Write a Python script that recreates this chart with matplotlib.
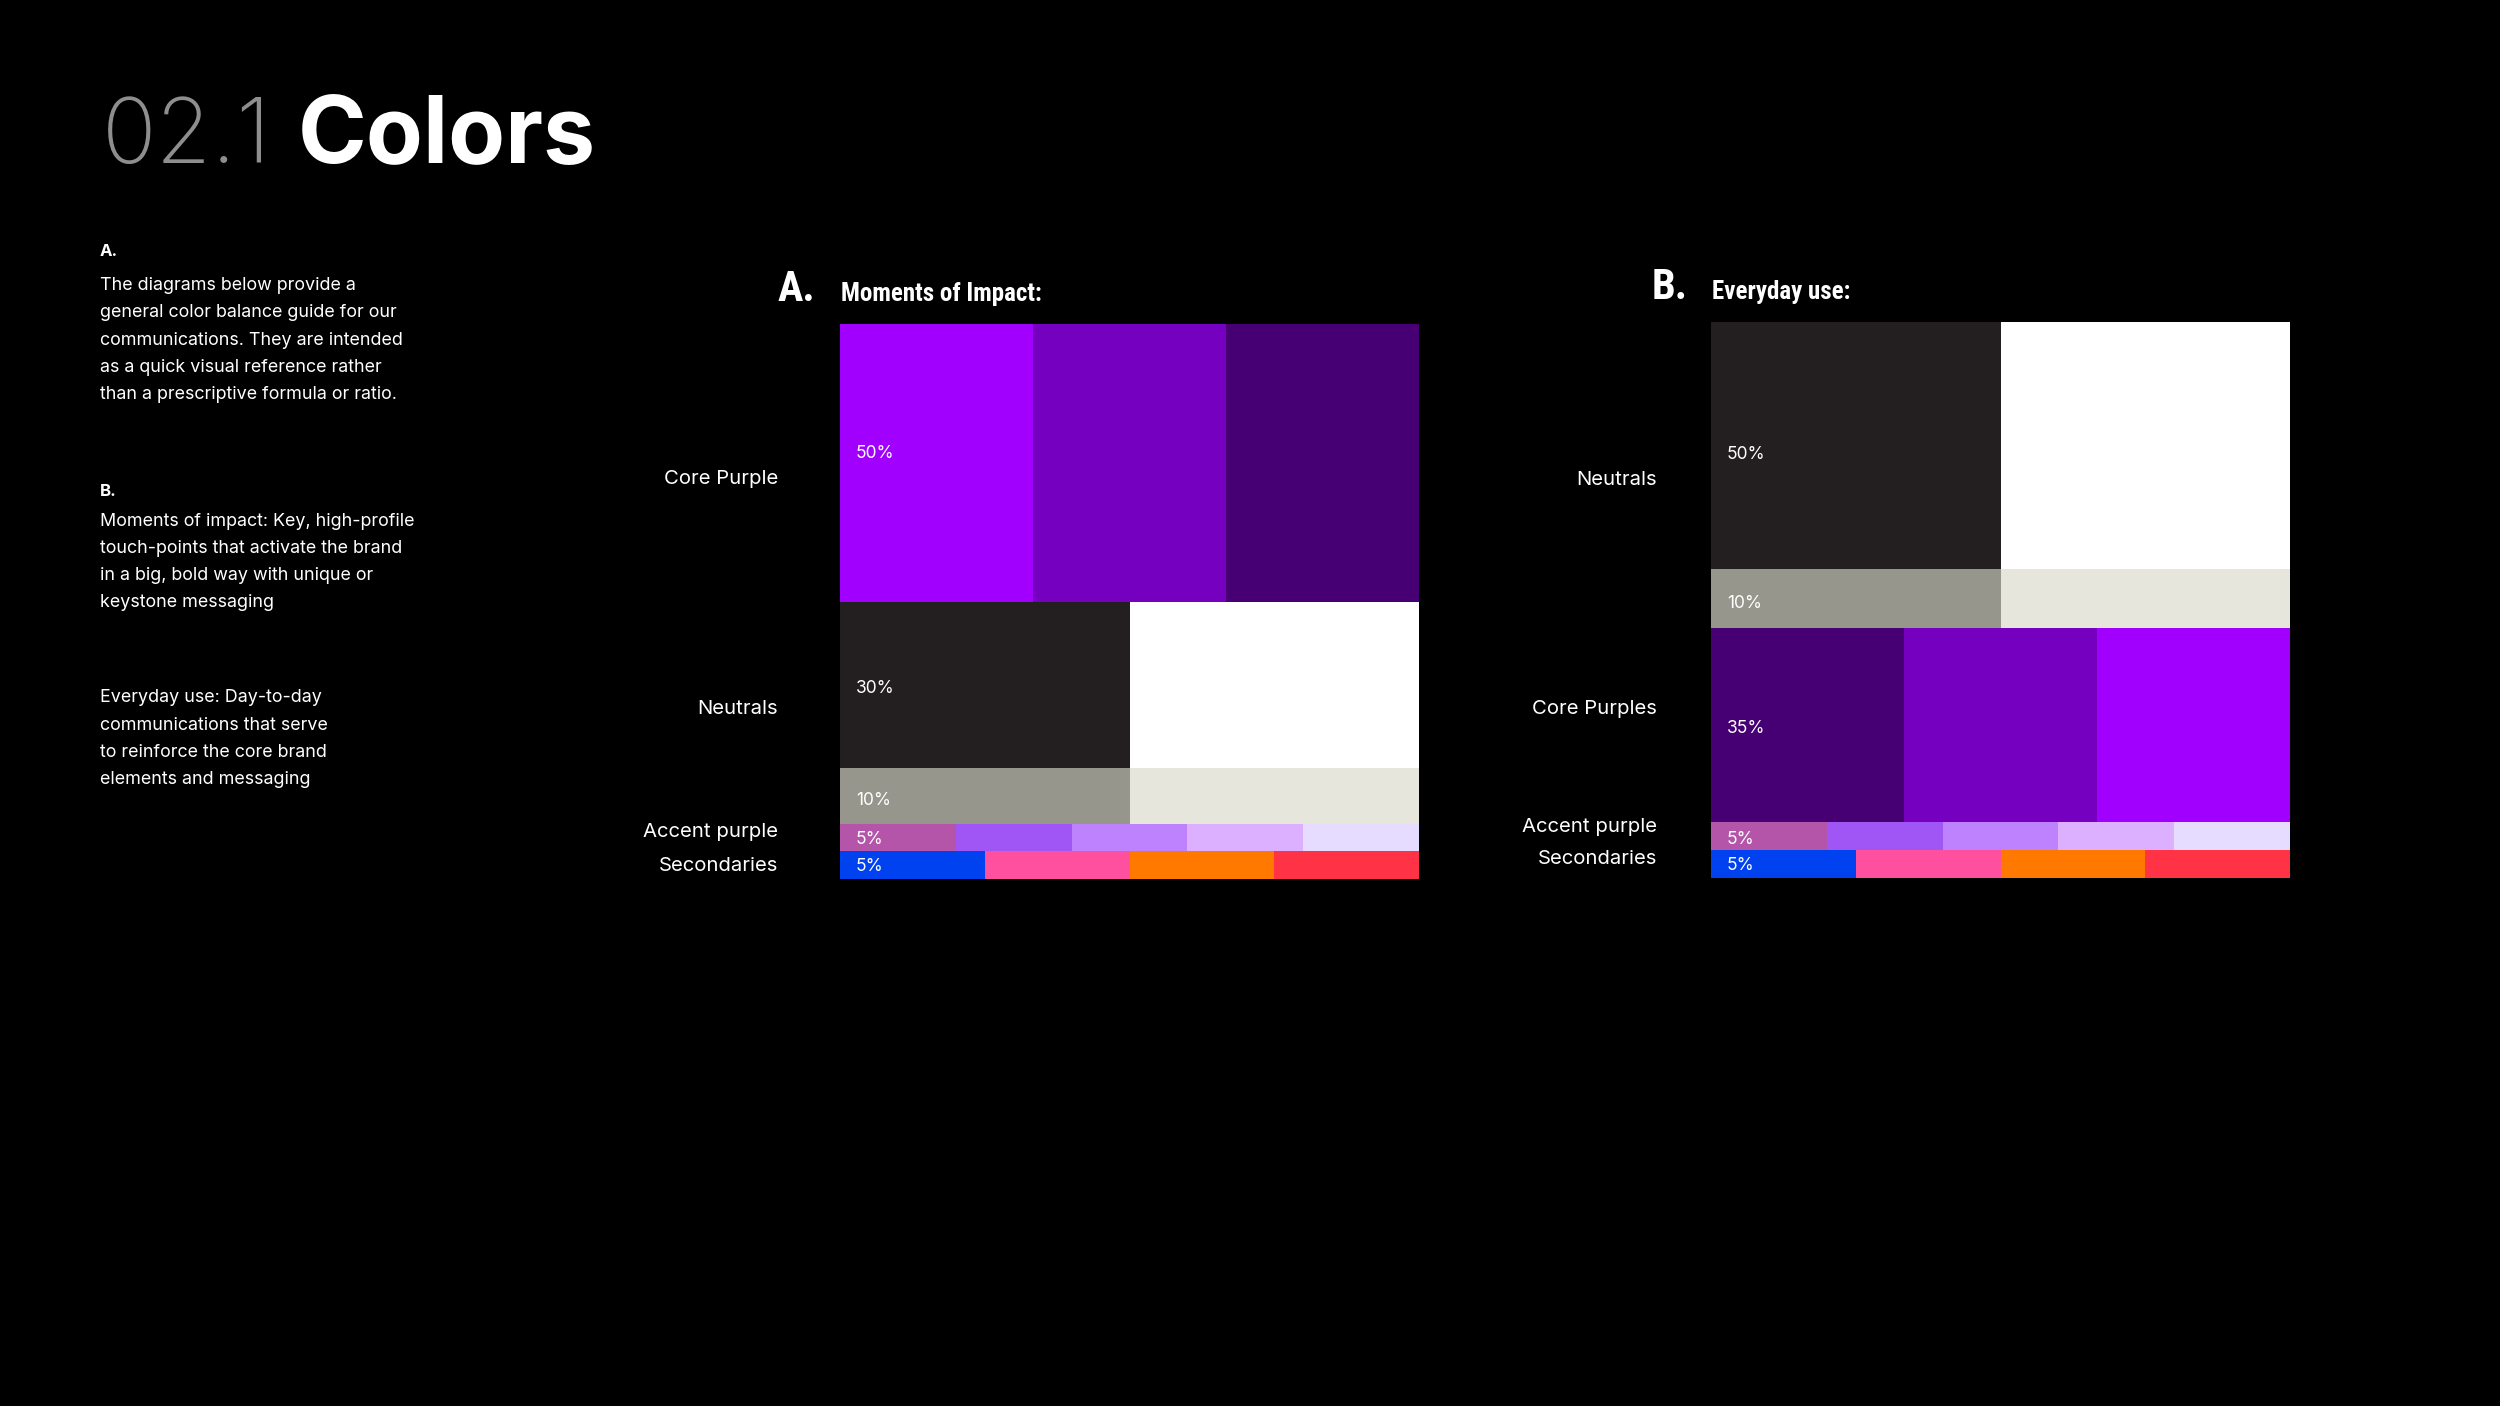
import numpy as np
import matplotlib
matplotlib.use("Agg")
import matplotlib.pyplot as plt
import logging
logging.getLogger("matplotlib.font_manager").setLevel(logging.ERROR)

# ---------------- data ----------------
title_num = "02.1"
title_word = "Colors"

intro_a_head = "A."
intro_a_lines = ["The diagrams below provide a",
                 "general color balance guide for our",
                 "communications. They are intended",
                 "as a quick visual reference rather",
                 "than a prescriptive formula or ratio."]
intro_b_head = "B."
intro_b_lines = ["Moments of impact: Key, high-profile",
                 "touch-points that activate the brand",
                 "in a big, bold way with unique or",
                 "keystone messaging"]
intro_c_lines = ["Everyday use: Day-to-day",
                 "communications that serve",
                 "to reinforce the core brand",
                 "elements and messaging"]

core_purples = ["#A100FF", "#7500C0", "#460073"]
neutrals_main = ["#231F20", "#FFFFFF"]
neutrals_grey = ["#96968C", "#E6E6DC"]
accent_purples = ["#B455AA", "#A055F5", "#BE82FF", "#DCAFFF", "#E6DCFF"]
secondaries = ["#0041F0", "#FF50A0", "#FF7800", "#FF3246"]

# Chart A : Moments of Impact
a_letter = "A."
a_title = "Moments of Impact:"
a_row_colors = [core_purples, neutrals_main, neutrals_grey, accent_purples, secondaries]
a_row_heights = [50, 30, 10, 5, 5]
a_row_pct = ["50%", "30%", "10%", "5%", "5%"]
a_categories = ["Core Purple", "Neutrals", "Accent purple", "Secondaries"]
a_category_rows = [[0], [1, 2], [3], [4]]

# Chart B : Everyday use
b_letter = "B."
b_title = "Everyday use:"
b_row_colors = [neutrals_main, neutrals_grey, core_purples[::-1], accent_purples, secondaries]
b_row_heights = [44.5, 10.5, 35, 5, 5]
b_row_pct = ["50%", "10%", "35%", "5%", "5%"]
b_categories = ["Neutrals", "Core Purples", "Accent purple", "Secondaries"]
b_category_rows = [[0, 1], [2], [3], [4]]

# ---------------- layout ----------------
W, H = 2500, 1406
DPI = 100
PX = 72.0 / DPI  # points per pixel

BODY_FONT = ["Inter", "DejaVu Sans"]
COND_FONT = ["Liberation Sans Narrow", "Roboto Condensed", "Open Sans Condensed",
             "Roboto", "DejaVu Sans"]

fig = plt.figure(figsize=(W / DPI, H / DPI), dpi=DPI, facecolor="black")


def fx(x):
    return x / W


def fy(y):
    return 1 - y / H


# Title
fig.text(fx(102), fy(163), title_num, color="#8E8E8E", fontsize=65,
         family=["Inter", "DejaVu Sans"], fontweight="light", va="baseline", ha="left")
fig.text(fx(298), fy(163), title_word, color="white", fontsize=67,
         family=["Inter", "DejaVu Sans"], fontweight="bold", va="baseline", ha="left")

# Left column text
BODY_SIZE = 12.9
LINE = 27.3


def para(y0, lines):
    for i, s in enumerate(lines):
        fig.text(fx(100), fy(y0 + i * LINE), s, color="white", fontsize=BODY_SIZE,
                 family=BODY_FONT, va="center", ha="left")


fig.text(fx(100), fy(251), intro_a_head, color="white", fontsize=BODY_SIZE - 0.8,
         family=BODY_FONT, fontweight="bold", va="center", ha="left")
para(285.5, intro_a_lines)
fig.text(fx(100), fy(492), intro_b_head, color="white", fontsize=BODY_SIZE - 0.8,
         family=BODY_FONT, fontweight="bold", va="center", ha="left")
para(521, intro_b_lines)
para(698, intro_c_lines)


def draw_chart(rect, letter, title, row_colors, row_heights, row_pct, pct_dy,
               cats, cat_rows, cat_dx, cat_dy, letter_dx):
    ax = fig.add_axes(rect)
    ax.set_facecolor("black")
    heights = np.asarray(row_heights, dtype=float)
    bottoms = np.concatenate([[0.0], np.cumsum(heights)[:-1]])
    for colors, h, b, pct, pdy in zip(row_colors, heights, bottoms, row_pct, pct_dy):
        n = len(colors)
        ax.barh(y=b, width=np.full(n, 1.0 / n), left=np.arange(n) / n, height=h,
                align="edge", color=colors, linewidth=0)
        ax.annotate(pct, xy=(0, b + h / 2), xytext=(16 * PX, -pdy * PX),
                    textcoords="offset points",
                    color="white", fontsize=12.5, family=BODY_FONT, va="center", ha="left")
    ax.set_xlim(0, 1)
    ax.set_ylim(heights.sum(), 0)
    ax.axis("off")
    for cat, rows, dy in zip(cats, cat_rows, cat_dy):
        top = bottoms[rows[0]]
        bot = bottoms[rows[-1]] + heights[rows[-1]]
        ax.annotate(cat, xy=(0, (top + bot) / 2), xytext=(cat_dx * PX, -dy * PX),
                    textcoords="offset points", color="white", fontsize=14.6,
                    family=BODY_FONT, va="center", ha="right")
    ax.annotate(letter, xy=(0, 1), xycoords="axes fraction",
                xytext=(-letter_dx * PX, 23 * PX), textcoords="offset points",
                color="white", fontsize=30.5, family=COND_FONT, fontweight="bold",
                fontstretch="condensed", va="baseline", ha="right")
    ax.annotate(title, xy=(0, 1), xycoords="axes fraction",
                xytext=(1 * PX, 23 * PX), textcoords="offset points",
                color="white", fontsize=18, family=COND_FONT, fontweight="bold",
                fontstretch="condensed", va="baseline", ha="left")
    return ax


# Chart A: x 840..1419, y 324..879
draw_chart([fx(840), fy(879), (1419 - 840) / W, (879 - 324) / H],
           a_letter, a_title, a_row_colors, a_row_heights, a_row_pct,
           [-9.5, 3.5, 5, 2, 1],
           a_categories, a_category_rows, -62, [16, -3, -5.5, 0.5], 25)

# Chart B: x 1711..2290, y 322..878
draw_chart([fx(1711), fy(878), (2290 - 1711) / W, (878 - 322) / H],
           b_letter, b_title, b_row_colors, b_row_heights, b_row_pct,
           [8.5, 5, 3.5, 3, 1],
           b_categories, b_category_rows, -54, [5, -16, -9, -5], 23)

fig.savefig("out.png", dpi=DPI, facecolor="black")
